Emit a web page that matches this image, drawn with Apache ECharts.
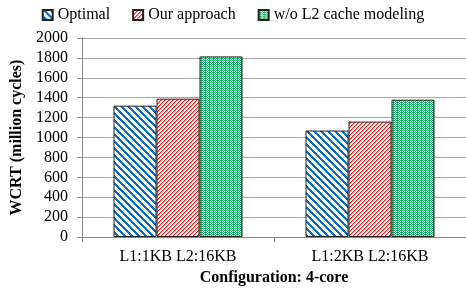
<!DOCTYPE html>
<html>
<head>
<meta charset="utf-8">
<script src="https://cdn.jsdelivr.net/npm/echarts@6/dist/echarts.min.js"></script>
<style>
  html, body { margin: 0; padding: 0; background: #fff; }
  #chart { width: 466px; height: 293px; }
</style>
</head>
<body>
<div id="chart"></div>
<script>
const categories = ['L1:1KB L2:16KB', 'L1:2KB L2:16KB']
const optimal = [1320, 1070]
const ourApproach = [1390, 1160]
const noL2Modeling = [1815, 1380]
const seriesNames = ['Optimal', 'Our approach', 'w/o L2 cache modeling']

// small canvas tiles used as bar fill patterns
function makePattern(size, pick) {
  const c = document.createElement('canvas')
  c.width = size
  c.height = size
  const ctx = c.getContext('2d')
  ctx.fillStyle = '#fff'
  ctx.fillRect(0, 0, size, size)
  for (let x = 0; x < size; x++) {
    for (let y = 0; y < size; y++) {
      const col = pick(x, y)
      if (col) {
        ctx.fillStyle = col
        ctx.fillRect(x, y, 1, 1)
      }
    }
  }
  return { image: c, repeat: 'repeat' }
}

const bluePattern = makePattern(7, (x, y) => (((x - y) % 7 + 7) % 7 < 3 ? '#0a70c8' : null))
const redPattern = makePattern(4, (x, y) => ((x + y) % 4 === 0 ? '#f01010' : ((x + y) % 4 === 1 ? '#f7a0a0' : null)))
const greenPattern = makePattern(4, (x, y) => ((x + y) % 2 === 0 || x % 4 === 1 ? '#16b060' : null))

const chart = echarts.init(document.getElementById('chart'))

const font = 'Liberation Serif'

const barStyle = (pattern) => ({
  color: pattern,
  borderColor: '#222',
  borderWidth: 1
})

const option = {
  animation: false,
  textStyle: { fontFamily: font, color: '#000' },
  legend: {
    top: 2,
    left: 'center',
    icon: 'rect',
    itemWidth: 10,
    itemHeight: 10,
    itemGap: 22,
    textStyle: { fontFamily: font, fontSize: 16, color: '#000' },
    data: seriesNames
  },
  grid: { left: 82, right: 0, top: 38, bottom: 56 },
  xAxis: {
    type: 'category',
    data: categories,
    name: 'Configuration: 4-core',
    nameLocation: 'middle',
    nameGap: 33,
    nameTextStyle: { fontFamily: font, fontSize: 16, fontWeight: 'bold', color: '#000' },
    axisLine: { lineStyle: { color: '#888', width: 1 } },
    axisTick: { show: true, length: 5, lineStyle: { color: '#888' } },
    axisLabel: { fontFamily: font, fontSize: 16, color: '#000', margin: 12 }
  },
  yAxis: {
    type: 'value',
    min: 0,
    max: 2000,
    interval: 200,
    name: 'WCRT (million cycles)',
    nameLocation: 'middle',
    nameGap: 42,
    nameTextStyle: { fontFamily: font, fontSize: 16, fontWeight: 'bold', color: '#000' },
    axisLine: { show: true, lineStyle: { color: '#888', width: 1 } },
    axisTick: { show: true, length: 5, lineStyle: { color: '#888' } },
    axisLabel: { fontFamily: font, fontSize: 16, color: '#000', margin: 14, formatter: (v) => String(v) },
    splitLine: { lineStyle: { color: '#a6a6a6', width: 1 } }
  },
  series: [
    {
      name: seriesNames[0],
      type: 'bar',
      data: optimal,
      barWidth: 43,
      barGap: '0%',
      itemStyle: barStyle(bluePattern)
    },
    {
      name: seriesNames[1],
      type: 'bar',
      data: ourApproach,
      barWidth: 43,
      barGap: '0%',
      itemStyle: barStyle(redPattern)
    },
    {
      name: seriesNames[2],
      type: 'bar',
      data: noL2Modeling,
      barWidth: 43,
      barGap: '0%',
      itemStyle: barStyle(greenPattern)
    }
  ]
}

chart.setOption(option)
</script>
</body>
</html>
